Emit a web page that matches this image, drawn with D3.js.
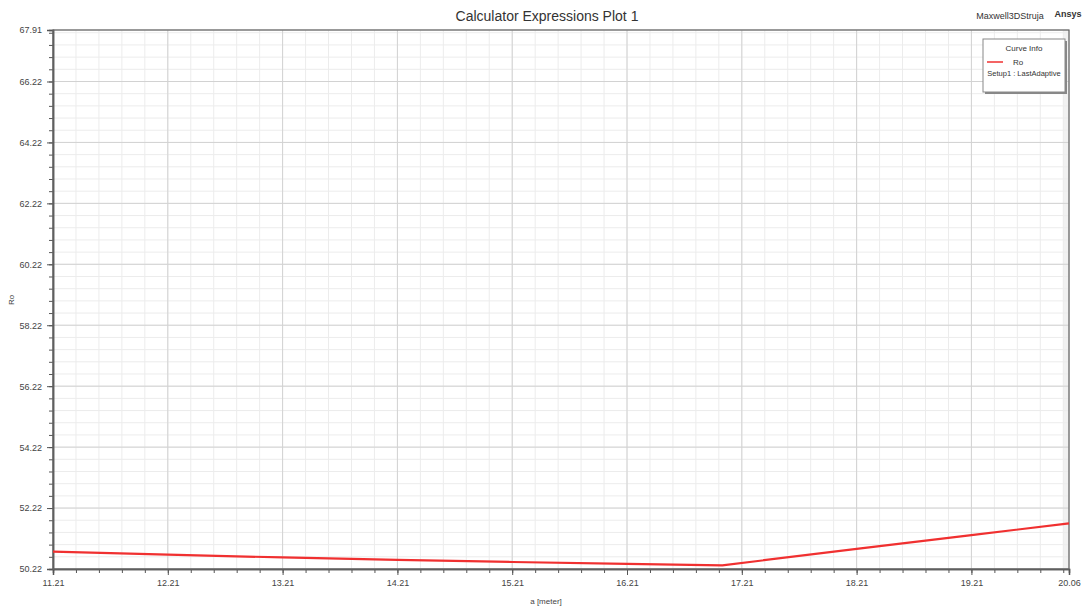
<!DOCTYPE html>
<html>
<head>
<meta charset="utf-8">
<script src="https://cdn.jsdelivr.net/npm/d3@7"></script>
<style>
  body { margin: 0; background: #fff; }
  svg { font-family: Arial, "Liberation Sans", sans-serif; }
</style>
</head>
<body>
<svg id="chart" width="1086" height="606"></svg>
<script>
// sweep values
var aValues  = [11.21, 12.21, 13.21, 14.21, 15.21, 16.21, 17.04, 18.21, 19.21, 20.06];
var roValues = [50.79, 50.69, 50.60, 50.52, 50.45, 50.39, 50.34, 50.88, 51.33, 51.72];

var xTickValues = [11.21, 12.21, 13.21, 14.21, 15.21, 16.21, 17.21, 18.21, 19.21, 20.06];
var yTickValues = [50.22, 52.22, 54.22, 56.22, 58.22, 60.22, 62.22, 64.22, 66.22, 67.91];

var svg = d3.select("#chart"),
  margin = { top: 30, right: 17, bottom: 37, left: 53 },
  width = +svg.attr("width") - margin.left - margin.right,
  height = +svg.attr("height") - margin.top - margin.bottom,
  g = svg.append("g").attr("transform", "translate(" + margin.left + "," + margin.top + ")");

var x = d3.scaleLinear().domain([11.21, 20.06]).range([0, width]);
var y = d3.scaleLinear().domain([50.22, 67.91]).range([height, 0]);

// minor steps: 0.2 on x, 0.4 on y
var xMinor = d3.range(11.21, 20.06, 0.2).map(d => +d.toFixed(2));
var yMinor = d3.range(50.22, 67.91, 0.4).map(d => +d.toFixed(2));

g.append("rect").attr("width", width).attr("height", height).attr("fill", "#fff");
// light strip at the right edge
g.append("rect").attr("x", width - 6).attr("width", 6).attr("height", height).attr("fill", "#f1f1f1");

g.append("g").selectAll("line").data(xMinor).enter().append("line")
  .attr("x1", d => x(d)).attr("x2", d => x(d))
  .attr("y1", 0).attr("y2", height)
  .attr("stroke", "#ececec").attr("stroke-width", 1);

g.append("g").selectAll("line").data(yMinor).enter().append("line")
  .attr("x1", 0).attr("x2", width)
  .attr("y1", d => y(d)).attr("y2", d => y(d))
  .attr("stroke", "#ececec").attr("stroke-width", 1);

g.append("g").selectAll("line").data(xTickValues).enter().append("line")
  .attr("x1", d => x(d)).attr("x2", d => x(d))
  .attr("y1", 0).attr("y2", height)
  .attr("stroke", "#d2d2d2").attr("stroke-width", 1);

g.append("g").selectAll("line").data(yTickValues).enter().append("line")
  .attr("x1", 0).attr("x2", width)
  .attr("y1", d => y(d)).attr("y2", d => y(d))
  .attr("stroke", "#d2d2d2").attr("stroke-width", 1);

// axes
var xMinorAxis = g.append("g")
  .attr("transform", `translate(0,${height})`)
  .call(d3.axisBottom(x).tickValues(xMinor).tickSize(4).tickFormat(""));
var xAxis = g.append("g")
  .attr("transform", `translate(0,${height})`)
  .call(d3.axisBottom(x).tickValues(xTickValues).tickSize(6).tickPadding(5).tickFormat(d3.format(".2f")));

var yMinorAxis = g.append("g")
  .call(d3.axisLeft(y).tickValues(yMinor).tickSize(4).tickFormat(""));
var yAxis = g.append("g")
  .call(d3.axisLeft(y).tickValues(yTickValues).tickSize(6).tickPadding(5).tickFormat(d3.format(".2f")));

[xMinorAxis, xAxis, yMinorAxis, yAxis].forEach(function(a) {
  a.select(".domain").attr("stroke", "#555").attr("stroke-width", 1.5);
  a.selectAll(".tick line").attr("stroke", "#555");
  a.selectAll("text").attr("fill", "#444").attr("font-size", 9);
});

// frame
g.append("rect").attr("width", width).attr("height", height)
  .attr("fill", "none").attr("stroke", "#666").attr("stroke-width", 1.2);

var line = d3.line()
  .x((d, i) => x(aValues[i]))
  .y(d => y(d));

g.append("path")
  .datum(roValues)
  .attr("fill", "none")
  .attr("stroke", "#f03030")
  .attr("stroke-width", 2.2)
  .attr("stroke-linejoin", "round")
  .attr("d", line);

// titles
svg.append("text")
  .attr("x", 547).attr("y", 21)
  .attr("text-anchor", "middle")
  .attr("font-size", 14).attr("fill", "#333")
  .text("Calculator Expressions Plot 1");

svg.append("text")
  .attr("x", 1010).attr("y", 19)
  .attr("text-anchor", "middle")
  .attr("font-size", 9).attr("fill", "#333")
  .text("Maxwell3DStruja");

svg.append("text")
  .attr("x", 1068).attr("y", 17)
  .attr("text-anchor", "middle")
  .attr("font-size", 9).attr("font-weight", "bold").attr("fill", "#333")
  .text("Ansys");

svg.append("text")
  .attr("x", margin.left + width / 2 - 15).attr("y", 604)
  .attr("text-anchor", "middle")
  .attr("font-size", 8).attr("fill", "#444")
  .text("a [meter]");

svg.append("text")
  .attr("transform", "translate(14,300) rotate(-90)")
  .attr("text-anchor", "middle")
  .attr("font-size", 8).attr("fill", "#444")
  .text("Ro");

// legend
var legend = svg.append("g").attr("transform", "translate(983,39)");
legend.append("rect").attr("x", 2).attr("y", 2).attr("width", 82).attr("height", 53).attr("fill", "#888");
legend.append("rect").attr("width", 82).attr("height", 53).attr("fill", "#fff").attr("stroke", "#888");
legend.append("text").attr("x", 41).attr("y", 12).attr("text-anchor", "middle")
  .attr("font-size", 8).attr("fill", "#333").text("Curve Info");
legend.append("line").attr("x1", 4).attr("x2", 20).attr("y1", 23).attr("y2", 23)
  .attr("stroke", "#f03030").attr("stroke-width", 1.5);
legend.append("text").attr("x", 30).attr("y", 26)
  .attr("font-size", 8).attr("fill", "#333").text("Ro");
legend.append("text").attr("x", 41).attr("y", 37).attr("text-anchor", "middle")
  .attr("font-size", 7.5).attr("fill", "#333").text("Setup1 : LastAdaptive");
</script>
</body>
</html>
